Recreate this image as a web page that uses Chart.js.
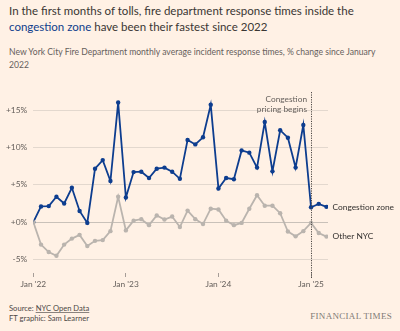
<!DOCTYPE html>
<html>
<head>
<meta charset="utf-8">
<script src="https://cdn.jsdelivr.net/npm/chart.js@4"></script>
<style>
  html, body { margin: 0; padding: 0; background: #fff1e5; }
  body { width: 400px; height: 331px; position: relative; overflow: hidden; font-family: Lato, "Open Sans", sans-serif; color: #33302e; }
  .title { position: absolute; left: 9px; top: 3px; width: 385px; font-size: 11.5px; line-height: 16px; color: #3a3633; }
  .title .cz { color: #0f3d8c; }
  .sub { position: absolute; left: 9px; top: 46px; width: 368px; font-size: 8.6px; line-height: 12.5px; color: #66605c; }
  .src { position: absolute; left: 9px; top: 304px; font-size: 7.6px; line-height: 9.5px; color: #4d4845; }
  .src u { text-decoration-color: #8a837e; }
  .ft { position: absolute; right: 8px; top: 311px; font-family: "Liberation Serif", serif; font-size: 9px; letter-spacing: 0.3px; color: #807a75; }
  #wrap { position: absolute; left: 0; top: 80px; width: 400px; height: 215px; }
</style>
</head>
<body>
<div class="title">In the first months of tolls, fire department response times inside the <span class="cz">congestion zone</span> have been their fastest since 2022</div>
<div class="sub">New York City Fire Department monthly average incident response times, % change since January 2022</div>
<div class="src">Source: <u>NYC Open Data</u><br>FT graphic: Sam Learner</div>
<div class="ft">FINANCIAL TIMES</div>
<div id="wrap"><canvas id="myChart"></canvas></div>
<script>
// months Jan 2022 .. Mar 2025
const months = []
for (let y = 2022; y <= 2025; y++) {
  for (let m = 1; m <= 12; m++) {
    if (y === 2025 && m > 3) break
    months.push(y + '-' + String(m).padStart(2, '0'))
  }
}

const congestionZone = [
  0, 2.1, 2.15, 3.4, 2.5, 4.6, 1.5, -0.1, 7.15, 8.3, 5.5, 16.0,
  3.3, 6.7, 6.75, 5.9, 7.15, 7.3, 6.75, 5.8, 11.0, 10.4, 11.35, 15.7,
  4.5, 5.9, 5.75, 9.6, 9.3, 7.3, 13.4, 6.8, 12.3, 11.3, 7.3, 13.0,
  2.0, 2.45, 2.05,
]

const otherNYC = [
  0, -3.0, -4.0, -4.5, -3.0, -2.2, -1.7, -3.2, -2.5, -2.4, -1.2, 3.4,
  -1.1, 0.2, 0.4, -0.4, 0.9, 0.35, 0.75, -0.65, 1.55, 0.4, -0.25, 1.8,
  1.7, 0.2, -0.4, -0.1, 1.8, 3.6, 2.2, 2.2, 1.2, -1.25, -1.9, -1.2,
  -0.1, -1.45, -1.93,
]

const yTicks = [-5, 0, 5, 10, 15]
const xTicks = [0, 12, 24, 36]
const xTickLabels = ["Jan '22", "Jan '23", "Jan '24", "Jan '25"]
const pricingStart = months.indexOf('2025-01')

const blue = '#0d3d8f'
const grey = '#bab4ae'

function toPoints(arr) {
  return arr.map((v, i) => ({ x: i, y: v }))
}

const extras = {
  id: 'extras',
  afterDatasetsDraw(chart) {
    const { ctx, chartArea, scales } = chart
    const x = scales.x.getPixelForValue(pricingStart)
    ctx.save()
    ctx.strokeStyle = '#4d4845'
    ctx.lineWidth = 1
    ctx.setLineDash([1.2, 1.2])
    ctx.beginPath()
    ctx.moveTo(Math.round(x) + 0.5, chartArea.top + 1)
    ctx.lineTo(Math.round(x) + 0.5, chartArea.bottom + 5)
    ctx.stroke()
    ctx.setLineDash([])

    ctx.font = '8.3px Lato, "Open Sans", sans-serif'
    ctx.fillStyle = '#66605c'
    ctx.textAlign = 'right'
    ctx.textBaseline = 'middle'
    ctx.fillText('Congestion', x - 4, chartArea.top + 8)
    ctx.fillText('pricing begins', x - 4, chartArea.top + 18.5)

    ctx.font = '8.4px Lato, "Open Sans", sans-serif'
    ctx.fillStyle = '#33302e'
    ctx.textAlign = 'left'
    const last = congestionZone.length - 1
    const lx = scales.x.getPixelForValue(last) + 6
    ctx.fillText('Congestion zone', lx, scales.y.getPixelForValue(congestionZone[last]))
    ctx.fillText('Other NYC', lx, scales.y.getPixelForValue(otherNYC[last]))
    ctx.restore()
  },
}

new Chart(document.getElementById('myChart').getContext('2d'), {
  type: 'line',
  data: {
    datasets: [
      {
        label: 'Other NYC',
        data: toPoints(otherNYC),
        borderColor: grey,
        backgroundColor: grey,
        borderWidth: 1.8,
        pointRadius: 2.2,
        pointBorderWidth: 0,
        tension: 0,
      },
      {
        label: 'Congestion zone',
        data: toPoints(congestionZone),
        borderColor: blue,
        backgroundColor: blue,
        borderWidth: 1.8,
        pointRadius: 2.2,
        pointBorderWidth: 0,
        tension: 0,
      },
    ],
  },
  options: {
    responsive: true,
    maintainAspectRatio: false,
    animation: false,
    layout: { padding: { top: 8, right: 72, left: 0, bottom: 0 } },
    plugins: { legend: { display: false }, tooltip: { enabled: false } },
    scales: {
      x: {
        type: 'linear',
        min: 0,
        max: 38.2,
        afterBuildTicks: axis => { axis.ticks = xTicks.map(v => ({ value: v })) },
        afterFit: axis => { axis.height = 22 },
        border: { display: false },
        grid: { drawOnChartArea: false, drawTicks: true, tickLength: 4, color: '#8f8883', lineWidth: 0.8 },
        ticks: {
          padding: 2,
          color: '#66605c',
          font: { family: 'Lato, "Open Sans", sans-serif', size: 8.4 },
          maxRotation: 0,
          callback: (v) => xTickLabels[xTicks.indexOf(v)],
        },
      },
      y: {
        min: -6.8,
        max: 17.54,
        afterBuildTicks: axis => { axis.ticks = yTicks.map(v => ({ value: v })) },
        afterFit: axis => { axis.width = 33.3 },
        border: { display: false },
        grid: {
          drawTicks: false,
          color: ctx => ctx.tick && ctx.tick.value === 0 ? '#c9c1b9' : '#e3d8ce',
          lineWidth: 1,
        },
        ticks: {
          padding: 6,
          color: '#66605c',
          font: { family: 'Lato, "Open Sans", sans-serif', size: 8.4 },
          callback: v => (v >= 0 ? '+' : '') + v + '%',
        },
      },
    },
  },
  plugins: [extras],
})
</script>
</body>
</html>
